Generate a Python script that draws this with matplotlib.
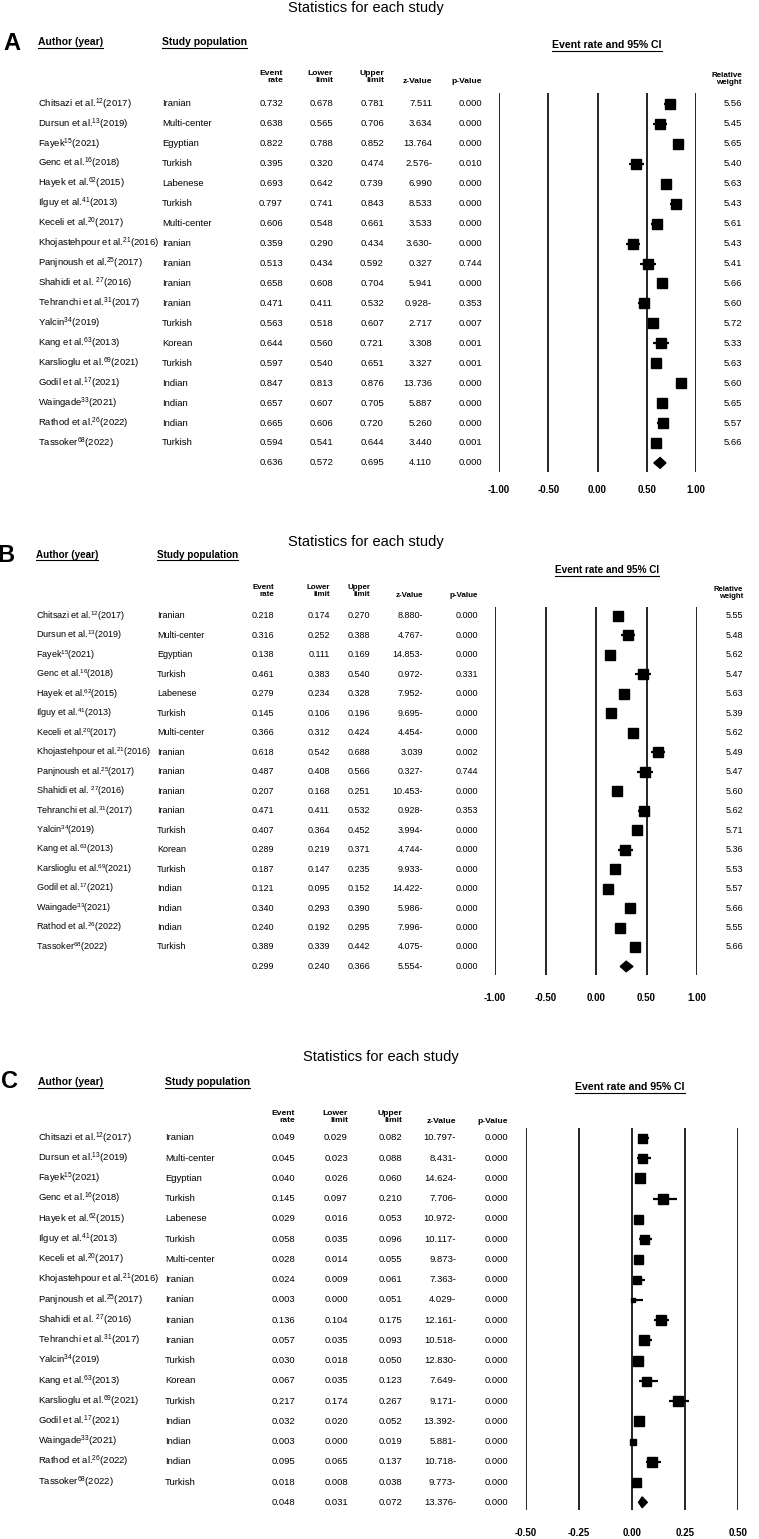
import matplotlib
matplotlib.use('Agg')
import matplotlib.pyplot as plt
from matplotlib.lines import Line2D

plt.rcParams['font.family'] = ['Liberation Sans', 'DejaVu Sans']
plt.rcParams['mathtext.fontset'] = 'custom'
plt.rcParams['mathtext.rm'] = 'Liberation Sans'
plt.rcParams['mathtext.it'] = 'Liberation Sans:italic'
plt.rcParams['mathtext.bf'] = 'Liberation Sans:bold'

#---------------------------------------
# data (same studies in all three panels)
authors = [r'Chitsazi et al.$^{12}$(2017)', r'Dursun et al.$^{13}$(2019)', r'Fayek$^{15}$(2021)',
           r'Genc et al.$^{16}$(2018)', r'Hayek et al.$^{62}$(2015)', r'Ilguy et al.$^{41}$(2013)',
           r'Keceli et al.$^{20}$(2017)', r'Khojastehpour et al.$^{21}$(2016)', r'Panjnoush et al.$^{25}$(2017)',
           r'Shahidi et al. $^{27}$(2016)', r'Tehranchi et al.$^{31}$(2017)', r'Yalcin$^{34}$(2019)',
           r'Kang et al.$^{63}$(2013)', r'Karslioglu et al.$^{69}$(2021)', r'Godil et al.$^{17}$(2021)',
           r'Waingade$^{33}$(2021)', r'Rathod et al.$^{26}$(2022)', r'Tassoker$^{68}$(2022)']
population = ['Iranian', 'Multi-center', 'Egyptian', 'Turkish', 'Labenese', 'Turkish', 'Multi-center',
              'Iranian', 'Iranian', 'Iranian', 'Iranian', 'Turkish', 'Korean', 'Turkish', 'Indian',
              'Indian', 'Indian', 'Turkish']

# panel A (last value = pooled)
a_rate = [0.732, 0.638, 0.822, 0.395, 0.693, 0.797, 0.606, 0.359, 0.513, 0.658, 0.471, 0.563, 0.644, 0.597, 0.847, 0.657, 0.665, 0.594, 0.636]
a_low = [0.678, 0.565, 0.788, 0.320, 0.642, 0.741, 0.548, 0.290, 0.434, 0.608, 0.411, 0.518, 0.560, 0.540, 0.813, 0.607, 0.606, 0.541, 0.572]
a_up = [0.781, 0.706, 0.852, 0.474, 0.739, 0.843, 0.661, 0.434, 0.592, 0.704, 0.532, 0.607, 0.721, 0.651, 0.876, 0.705, 0.720, 0.644, 0.695]
a_z = ['7.511', '3.634', '13.764', '2.576-', '6.990', '8.533', '3.533', '3.630-', '0.327', '5.941', '0.928-', '2.717', '3.308', '3.327', '13.736', '5.887', '5.260', '3.440', '4.110']
a_p = ['0.000', '0.000', '0.000', '0.010', '0.000', '0.000', '0.000', '0.000', '0.744', '0.000', '0.353', '0.007', '0.001', '0.001', '0.000', '0.000', '0.000', '0.001', '0.000']
a_wt = [5.56, 5.45, 5.65, 5.40, 5.63, 5.43, 5.61, 5.43, 5.41, 5.66, 5.60, 5.72, 5.33, 5.63, 5.60, 5.65, 5.57, 5.66]

# panel B
b_rate = [0.218, 0.316, 0.138, 0.461, 0.279, 0.145, 0.366, 0.618, 0.487, 0.207, 0.471, 0.407, 0.289, 0.187, 0.121, 0.340, 0.240, 0.389, 0.299]
b_low = [0.174, 0.252, 0.111, 0.383, 0.234, 0.106, 0.312, 0.542, 0.408, 0.168, 0.411, 0.364, 0.219, 0.147, 0.095, 0.293, 0.192, 0.339, 0.240]
b_up = [0.270, 0.388, 0.169, 0.540, 0.328, 0.196, 0.424, 0.688, 0.566, 0.251, 0.532, 0.452, 0.371, 0.235, 0.152, 0.390, 0.295, 0.442, 0.366]
b_z = ['8.880-', '4.767-', '14.853-', '0.972-', '7.952-', '9.695-', '4.454-', '3.039', '0.327-', '10.453-', '0.928-', '3.994-', '4.744-', '9.933-', '14.422-', '5.986-', '7.996-', '4.075-', '5.554-']
b_p = ['0.000', '0.000', '0.000', '0.331', '0.000', '0.000', '0.000', '0.002', '0.744', '0.000', '0.353', '0.000', '0.000', '0.000', '0.000', '0.000', '0.000', '0.000', '0.000']
b_wt = [5.55, 5.48, 5.62, 5.47, 5.63, 5.39, 5.62, 5.49, 5.47, 5.60, 5.62, 5.71, 5.36, 5.53, 5.57, 5.66, 5.55, 5.66]

# panel C
c_rate = [0.049, 0.045, 0.040, 0.145, 0.029, 0.058, 0.028, 0.024, 0.003, 0.136, 0.057, 0.030, 0.067, 0.217, 0.032, 0.003, 0.095, 0.018, 0.048]
c_low = [0.029, 0.023, 0.026, 0.097, 0.016, 0.035, 0.014, 0.009, 0.000, 0.104, 0.035, 0.018, 0.035, 0.174, 0.020, 0.000, 0.065, 0.008, 0.031]
c_up = [0.082, 0.088, 0.060, 0.210, 0.053, 0.096, 0.055, 0.061, 0.051, 0.175, 0.093, 0.050, 0.123, 0.267, 0.052, 0.019, 0.137, 0.038, 0.072]
c_z = ['10.797-', '8.431-', '14.624-', '7.706-', '10.972-', '10.117-', '9.873-', '7.363-', '4.029-', '12.161-', '10.518-', '12.830-', '7.649-', '9.171-', '13.392-', '5.881-', '10.718-', '9.773-', '13.376-']
c_p = ['0.000'] * 19
c_box = [9, 9, 10, 10, 9, 9, 9, 8, 4, 10, 10, 10, 9, 10, 10, 6, 10, 9]   # box width in px, no weights shown

a_ticks = [-1.0, -0.5, 0.0, 0.5, 1.0]
c_ticks = [-0.5, -0.25, 0.0, 0.25, 0.5]

#---------------------------------------
W, H = 759, 1539
fig = plt.figure(figsize=(W / 100, H / 100), dpi=100)

def fx(x): return x / W
def fy(y): return 1 - y / H

underlined = []

def panel(letter, ytitle, yletter, xletter, xauth, xpop, yhead, ycol, cols, ci_x, ci_y, wt_x,
          rate, low, up, z, p, boxes, row0, dy, ytop, ybot, xl, xr, ticks, ytick, title_x, sc=1.0):
    FS = 6.8 * sc
    fig.text(fx(title_x), fy(ytitle), 'Statistics for each study', fontsize=10.5, ha='center', va='center')
    fig.text(fx(xletter), fy(yletter), letter, fontsize=17, fontweight='bold', ha='center', va='center')
    underlined.append(fig.text(fx(xauth), fy(yhead), 'Author (year)', fontsize=7.5 * sc, fontweight='bold', va='center'))
    underlined.append(fig.text(fx(xpop), fy(yhead), 'Study population', fontsize=7.5 * sc, fontweight='bold', va='center'))
    underlined.append(fig.text(fx(ci_x), fy(ci_y), 'Event rate and 95% CI', fontsize=7.6 * sc, fontweight='bold',
                               ha='center', va='center'))
    heads = ['Event\nrate', 'Lower\nlimit', 'Upper\nlimit']
    for h, cx in zip(heads, cols[:3]):
        fig.text(fx(cx), fy(ycol), h, fontsize=6.1 * sc, fontweight='bold', ha='right', va='center',
                 multialignment='right', linespacing=0.95)
    for h, cx in zip(['z-Value', 'p-Value'], cols[3:]):
        fig.text(fx(cx), fy(ycol + 4.5), h, fontsize=6.1 * sc, fontweight='bold', ha='right', va='center')
    if wt_x is not None:
        fig.text(fx(wt_x), fy(ycol + 2), 'Relative\nweight', fontsize=5.8 * sc, fontweight='bold', ha='right',
                 va='center', multialignment='right', linespacing=0.95)

    n = len(rate)
    for i in range(n):
        yy = fy(row0 + i * dy)
        if i < n - 1:
            fig.text(fx(xauth), yy, authors[i], fontsize=FS, va='center')
            fig.text(fx(xpop), yy, population[i], fontsize=FS, va='center')
        vals = ['%.3f' % rate[i], '%.3f' % low[i], '%.3f' % up[i], z[i], p[i]]
        for v, cx in zip(vals, cols):
            fig.text(fx(cx), yy, v, fontsize=FS, ha='right', va='center')
        if wt_x is not None and i < n - 1:
            fig.text(fx(wt_x), yy, '%.2f' % boxes[i], fontsize=FS, ha='right', va='center')

    # forest part
    top_row = (ytop - row0) / dy
    bot_row = (ybot - row0) / dy
    ax = fig.add_axes([fx(xl), fy(ybot), (xr - xl) / W, (ybot - ytop) / H])
    ax.set_xlim(ticks[0], ticks[-1])
    ax.set_ylim(bot_row, top_row)
    for t in ticks:
        ax.axvline(t, color='black', lw=1.2, zorder=1)
    for s in ax.spines.values():
        s.set_visible(False)
    ax.set_yticks([])
    ax.set_xticks(ticks)
    ax.set_xticklabels(['%.2f' % t for t in ticks], fontsize=7, fontweight='bold')
    ax.tick_params(axis='x', length=0, pad=(ytick - ybot - 5) * 0.72)
    ax.patch.set_alpha(0)

    for i in range(n - 1):
        ax.hlines(i, low[i], up[i], color='black', lw=1.6, zorder=2)
        if wt_x is not None:
            ms = boxes[i] * 1.33
        else:
            ms = boxes[i] * 0.72
        ax.plot(rate[i], i, marker='s', ms=ms, color='black', mec='black', zorder=3, clip_on=False)
    # pooled diamond
    k = n - 1
    h = 0.27
    ax.fill([low[k], rate[k], up[k], rate[k]], [k, k - h, k, k + h], color='black', zorder=3)
    return ax


panel('A', 8, 43, 12, 38, 162, 42, 77, [283, 333, 384, 432, 482], 607, 45, 742,
      a_rate, a_low, a_up, a_z, a_p, a_wt, 104, 19.94, 93, 472, 499, 696, a_ticks, 490, 366)

panel('B', 542, 555, 6, 36, 157, 555, 591, [274, 330, 370, 423, 478], 607, 570, 743,
      b_rate, b_low, b_up, b_z, b_p, b_wt, 616, 19.47, 607, 975, 495, 697, a_ticks, 998, 366, sc=0.95)

panel('C', 1057, 1082, 9, 38, 165, 1082, 1117, [295, 348, 402, 456, 508], 630, 1087, None,
      c_rate, c_low, c_up, c_z, c_p, c_box, 1138, 20.24, 1128, 1510, 526, 738, c_ticks, 1533, 381)

# underline the header labels
renderer = fig.canvas.get_renderer()
for t in underlined:
    bb = t.get_window_extent(renderer)
    yl = bb.y0 - 0.5
    fig.add_artist(Line2D([bb.x0 / W, bb.x1 / W], [yl / H, yl / H], color='black', lw=0.8,
                          transform=fig.transFigure))

plt.savefig('out.png', dpi=100)
plt.close()
